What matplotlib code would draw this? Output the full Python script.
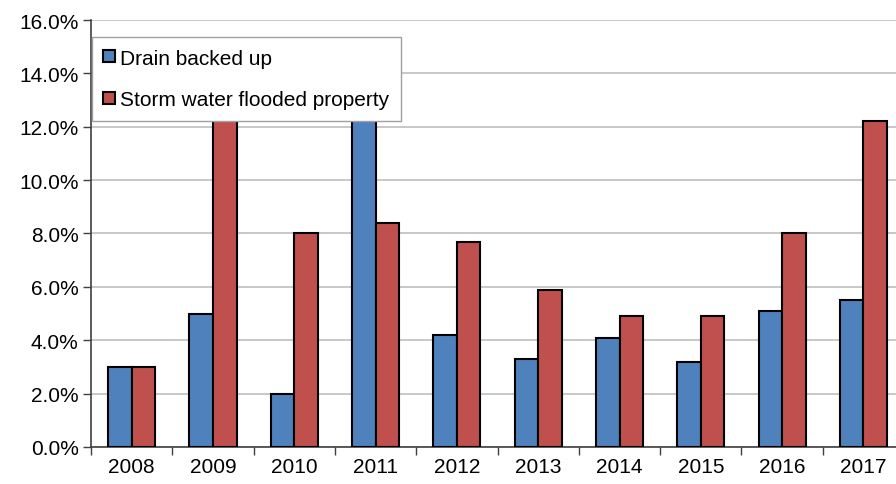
import numpy as np
import matplotlib.pyplot as plt
from matplotlib.ticker import FuncFormatter

plt.rcParams['font.family'] = ['Liberation Sans', 'DejaVu Sans']

years = ['2008', '2009', '2010', '2011', '2012', '2013', '2014', '2015', '2016', '2017']
drain = [3.0, 5.0, 2.0, 14.0, 4.2, 3.3, 4.1, 3.2, 5.1, 5.5]
storm = [3.0, 14.0, 8.0, 8.4, 7.7, 5.9, 4.9, 4.9, 8.0, 12.2]

blue = '#4f81bd'
red = '#c0504d'

fig = plt.figure(figsize=(8.96, 4.85), dpi=100)
ax = fig.add_axes([0.1016, 0.0763, 0.9074, 0.8804])

x = np.arange(len(years))
w = 0.29
ax.bar(x - w / 2, drain, w, color=blue, edgecolor='black', linewidth=1.5, label='Drain backed up', zorder=3)
ax.bar(x + w / 2, storm, w, color=red, edgecolor='black', linewidth=1.5, label='Storm water flooded property', zorder=3)

ax.set_xlim(-0.5, len(years) - 0.5)
ax.set_ylim(0, 16)
ax.set_yticks(np.arange(0, 17, 2))
ax.yaxis.set_major_formatter(FuncFormatter(lambda v, p: f'{v:.1f}%'))
ax.set_xticks(x)
ax.set_xticklabels(years)
ax.set_xticks(np.arange(-0.5, len(years), 1), minor=True)
ax.tick_params(axis='x', which='major', length=0, labelsize=15, pad=7)
ax.tick_params(axis='x', which='minor', length=6, width=1, color='#404040')
ax.tick_params(axis='y', length=6, width=1, color='#404040', labelsize=15, pad=3)
ax.grid(axis='y', color='#bfbfbf', linewidth=1.2, zorder=0)
for s in ['top', 'right']:
    ax.spines[s].set_visible(False)
for s in ['left', 'bottom']:
    ax.spines[s].set_color('#404040')
    ax.spines[s].set_linewidth(1.2)

leg = ax.legend(loc='upper left', bbox_to_anchor=(0.001, 0.96), borderaxespad=0,
                fontsize=15, fancybox=False, framealpha=1, edgecolor='#a0a0a0',
                handlelength=0.55, handleheight=0.55, handletextpad=0.25,
                labelspacing=1.1, borderpad=0.55)
leg.set_zorder(5)

fig.savefig('out.png', dpi=100)
